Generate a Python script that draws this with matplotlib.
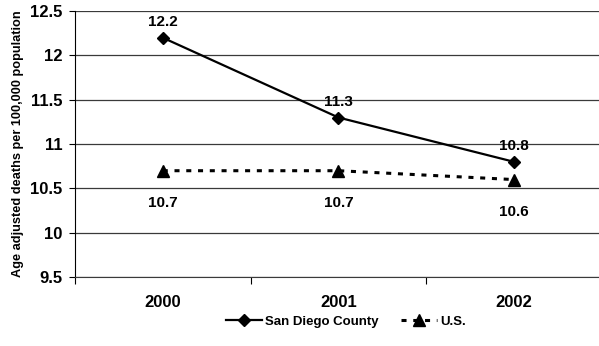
import matplotlib
matplotlib.use("Agg")
import matplotlib.pyplot as plt

years = ["2000", "2001", "2002"]
san_diego = [12.2, 11.3, 10.8]
us = [10.7, 10.7, 10.6]
y_ticks = [9.5, 10, 10.5, 11, 11.5, 12, 12.5]

plt.rcParams["font.family"] = ["Liberation Sans", "DejaVu Sans"]
plt.rcParams["font.weight"] = "bold"

fig = plt.figure(figsize=(5.99, 3.46), dpi=100)
ax = fig.add_axes([0.125, 0.199, 0.88, 0.769])

x = list(range(len(years)))
ax.plot(x, san_diego, color="black", lw=1.6, marker="D", ms=6.5, label="San Diego County", zorder=3)
ax.plot(x, us, color="black", lw=2.2, ls=(0, (1.65, 2.2)), marker="^", ms=8, label="U.S.", zorder=3)

for xi, v in zip(x, san_diego):
    ax.annotate(f"{v}", (xi, v), xytext=(0, 11.5), textcoords="offset points",
                ha="center", va="center", fontsize=11, fontweight="bold")
for xi, v in zip(x, us):
    ax.annotate(f"{v}", (xi, v), xytext=(0, -23), textcoords="offset points",
                ha="center", va="center", fontsize=11, fontweight="bold")

ax.set_xlim(-0.5, 2.5)
ax.set_ylim(9.5, 12.5)
ax.set_yticks(y_ticks)
ax.set_yticklabels([f"{t:g}" for t in y_ticks], fontsize=12, fontweight="bold")
ax.set_xticks([-0.5, 0.5, 1.5, 2.5])
ax.set_xticklabels([])
ax.set_xticks(x, minor=True)
ax.set_xticklabels(years, minor=True, fontsize=12, fontweight="bold")
ax.tick_params(axis="x", which="minor", length=0, pad=13)
ax.tick_params(axis="x", which="major", length=5, color="black", direction="out")
ax.tick_params(axis="y", length=4, color="black", direction="out", pad=5)

ax.grid(axis="y", color="#3a3a3a", lw=0.9)
for s in ["top", "right"]:
    ax.spines[s].set_visible(False)
ax.spines["bottom"].set_color("#3a3a3a")
ax.spines["left"].set_color("black")
ax.set_axisbelow(True)

ax.set_ylabel("Age adjusted deaths per 100,000 population", fontsize=9.2, fontweight="bold", labelpad=4)

fig.legend(loc="center", bbox_to_anchor=(0.578, 0.07), ncol=2, frameon=False,
           handlelength=2.7, handletextpad=0.25, columnspacing=1.7,
           prop={"weight": "bold", "size": 9.5})

fig.savefig("out.png", dpi=100)
